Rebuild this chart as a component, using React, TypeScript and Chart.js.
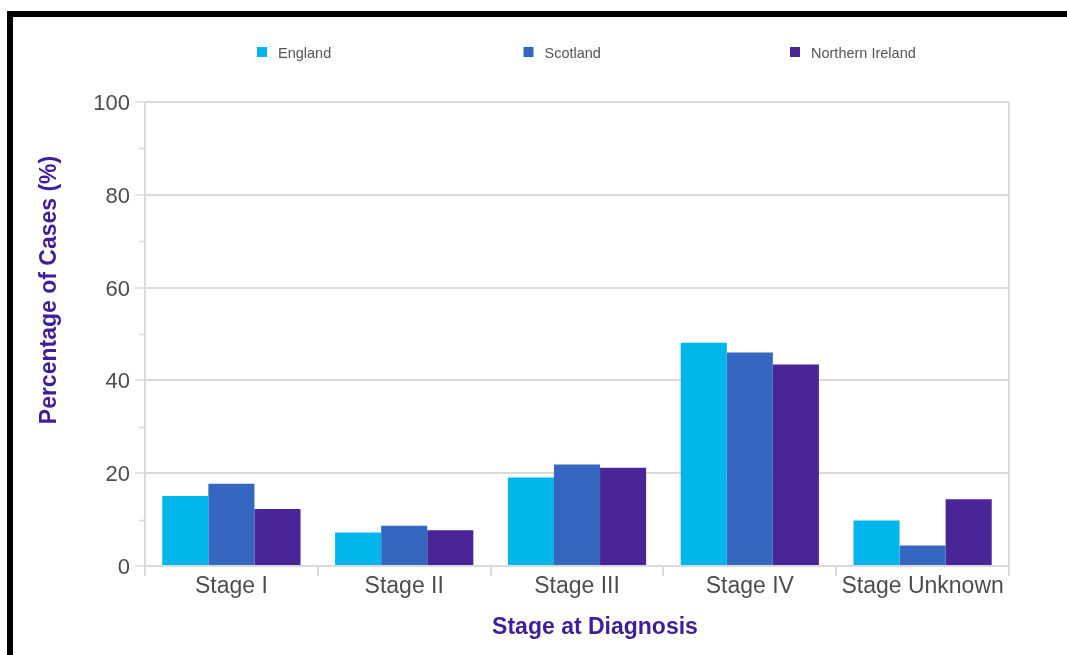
import { useEffect, useRef } from 'react';
import { Chart, registerables } from 'chart.js';

Chart.register(...registerables);

// Stage at diagnosis, percentage of cases by nation
const stages = ['Stage I', 'Stage II', 'Stage III', 'Stage IV', 'Stage Unknown'];
const nations = ['England', 'Scotland', 'Northern Ireland'];
const england = [15.1, 7.2, 19.1, 48.1, 9.8];
const scotland = [17.7, 8.7, 21.9, 46.0, 4.4];
const northernIreland = [12.3, 7.7, 21.2, 43.4, 14.4];
const nationColors = ['#00b5ec', '#3567c0', '#4a2597'];

const yMin = 0;
const yMax = 100;
const yStep = 10;
const yLabelEvery = 20;

const yTitle = 'Percentage of Cases (%)';
const xTitle = 'Stage at Diagnosis';

const FONT = '"Liberation Sans", Arial, Helvetica, sans-serif';
const GRID = '#dadada';
const TICK_TEXT = '#4d4d4d';
const TITLE_COLOR = '#3f1f98';

// Legend row, minor y tick marks and both axis captions
const decorations = {
  id: 'decorations',
  afterDraw(chart: any) {
    const { ctx, chartArea, scales } = chart;
    const y = scales.y;
    ctx.save();

    // short unlabelled tick marks between the gridlines
    ctx.strokeStyle = GRID;
    ctx.lineWidth = 1.5;
    y.ticks.forEach((t: any) => {
      if (t.value % yLabelEvery !== 0) {
        const py = Math.round(y.getPixelForValue(t.value)) + 0.5;
        ctx.beginPath();
        ctx.moveTo(chartArea.left - 6, py);
        ctx.lineTo(chartArea.left, py);
        ctx.stroke();
      }
    });

    // legend
    ctx.font = `14.5px ${FONT}`;
    ctx.textBaseline = 'middle';
    ctx.textAlign = 'left';
    chart.data.datasets.forEach((ds: any, i: number) => {
      const x = chartArea.left + 112 + i * 266.5;
      const cy = chartArea.top - 50;
      ctx.fillStyle = ds.backgroundColor;
      ctx.fillRect(x, cy - 5, 10, 10);
      ctx.fillStyle = '#555555';
      ctx.fillText(ds.label, x + 21, cy + 2);
    });

    // axis captions
    ctx.fillStyle = TITLE_COLOR;
    ctx.font = `bold 23px ${FONT}`;
    ctx.textAlign = 'center';
    ctx.textBaseline = 'middle';
    ctx.fillText(xTitle, chartArea.left + 450, chartArea.bottom + 62);

    ctx.translate(chartArea.left - 95, chartArea.top + 188);
    ctx.rotate(-Math.PI / 2);
    ctx.fillText(yTitle, 0, 0);

    ctx.restore();
  },
};

export default function App() {
  const canvasRef = useRef<HTMLCanvasElement | null>(null);

  useEffect(() => {
    if (!canvasRef.current) return;
    const series = [england, scotland, northernIreland];
    const chart = new Chart(canvasRef.current, {
      type: 'bar',
      data: {
        labels: stages,
        datasets: nations.map((name, i) => ({
          label: name,
          data: series[i],
          backgroundColor: nationColors[i],
          borderWidth: 0,
          categoryPercentage: 0.8,
          barPercentage: 1.0,
        })),
      },
      options: {
        responsive: false,
        animation: false,
        layout: { padding: { left: 72, right: 58, top: 85, bottom: 71 } },
        plugins: {
          legend: { display: false },
          tooltip: { enabled: false },
        },
        scales: {
          x: {
            afterFit: (s: any) => {
              s.height = 40;
            },
            grid: {
              offset: true,
              color: (c: any) => (c.type === 'scale' ? GRID : 'rgba(0,0,0,0)'),
              tickColor: GRID,
              lineWidth: 2,
              tickWidth: 2,
              tickLength: 10,
            },
            border: { color: GRID, width: 2 },
            ticks: {
              color: TICK_TEXT,
              font: { family: FONT, size: 23 },
              padding: -3,
              maxRotation: 0,
              autoSkip: false,
            },
          },
          y: {
            min: yMin,
            max: yMax,
            afterFit: (s: any) => {
              s.width = 60;
            },
            grid: {
              color: (c: any) =>
                c.tick && c.tick.value % yLabelEvery === 0 ? GRID : 'rgba(0,0,0,0)',
              tickColor: (c: any) =>
                c.tick && c.tick.value % yLabelEvery === 0 ? GRID : 'rgba(0,0,0,0)',
              lineWidth: 2,
              tickWidth: 1.5,
              tickLength: 10,
            },
            border: { color: GRID, width: 2 },
            ticks: {
              stepSize: yStep,
              color: TICK_TEXT,
              font: { family: FONT, size: 22 },
              padding: 5,
              labelOffset: 2,
              callback: (v: any) => (Number(v) % yLabelEvery === 0 ? String(v) : ''),
            },
          },
        },
      },
      plugins: [decorations],
    });
    return () => chart.destroy();
  }, []);

  return (
    <div
      style={{
        position: 'fixed',
        left: 0,
        top: 0,
        width: 1067,
        height: 655,
        overflow: 'hidden',
        background: '#ffffff',
      }}
    >
      <div
        style={{
          position: 'absolute',
          left: 7,
          top: 11,
          width: 1200,
          height: 760,
          border: '6px solid #000000',
          background: '#ffffff',
        }}
      >
        <canvas ref={canvasRef} width={1054} height={660} style={{ display: 'block' }} />
      </div>
    </div>
  );
}
